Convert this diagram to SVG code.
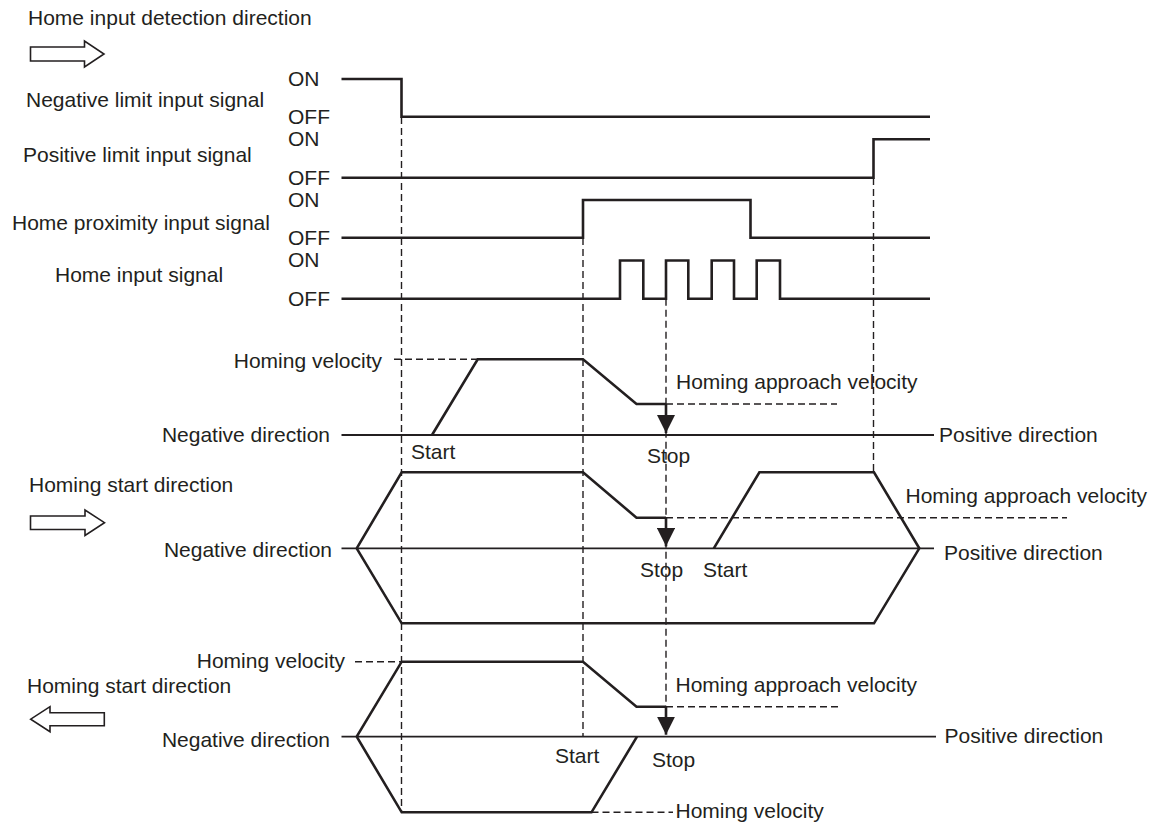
<svg xmlns="http://www.w3.org/2000/svg" width="1159" height="825" viewBox="0 0 1159 825">
<style>
text{font-family:"Liberation Sans",Arial,sans-serif;font-size:21px;fill:#231f20}
.sig{fill:none;stroke:#231f20;stroke-width:2.6;stroke-linejoin:miter}
.ax{fill:none;stroke:#231f20;stroke-width:1.8}
.prof{fill:none;stroke:#231f20;stroke-width:2.6;stroke-linejoin:miter}
.dash{fill:none;stroke:#231f20;stroke-width:1.4;stroke-dasharray:7 4}
.hollow{fill:#fff;stroke:#231f20;stroke-width:1.6}
.end{text-anchor:end}
</style>
<defs>
<marker id="ah" viewBox="0 0 10 10" refX="10" refY="5" markerWidth="7" markerHeight="7" markerUnits="strokeWidth" orient="auto">
<path d="M0,0 L10,5 L0,10 Z" fill="#231f20"/>
</marker>
</defs>
<rect width="1159" height="825" fill="#fff"/>

<g id="legend-detection">
<text x="28" y="25">Home input detection direction</text>
<polygon class="hollow" points="30.5,47 84.5,47 84.5,41 104,54 84.5,67 84.5,61 30.5,61"/>
</g>

<g id="neg-limit">
<text x="26" y="107">Negative limit input signal</text>
<text x="288" y="86">ON</text>
<text x="288" y="124">OFF</text>
<polyline class="sig" points="341.5,79 401.5,79 401.5,116.7 930,116.7"/>
</g>

<g id="pos-limit">
<text x="23" y="162">Positive limit input signal</text>
<text x="288" y="146">ON</text>
<text x="288" y="185">OFF</text>
<polyline class="sig" points="341.5,177.7 873.5,177.7 873.5,139.3 930,139.3"/>
</g>

<g id="home-prox">
<text x="12" y="230">Home proximity input signal</text>
<text x="288" y="207">ON</text>
<text x="288" y="245">OFF</text>
<polyline class="sig" points="341.5,237.7 583,237.7 583,200 750.5,200 750.5,237.7 930,237.7"/>
</g>

<g id="home-input">
<text x="55" y="282">Home input signal</text>
<text x="288" y="267">ON</text>
<text x="288" y="306">OFF</text>
<polyline class="sig" points="341.5,298.7 620,298.7 620,260.5 643.3,260.5 643.3,298.7 666,298.7 666,260.5 688.3,260.5 688.3,298.7 711.7,298.7 711.7,260.5 734,260.5 734,298.7 756.7,298.7 756.7,260.5 780,260.5 780,298.7 930,298.7"/>
</g>

<g id="connectors">
<line class="dash" x1="401.5" y1="117" x2="401.5" y2="812"/>
<line class="dash" x1="583" y1="238" x2="583" y2="736.7"/>
<line class="dash" x1="666" y1="298.7" x2="666" y2="706.7"/>
<line class="dash" x1="873.5" y1="178" x2="873.5" y2="472.3"/>
</g>

<g id="panel-1">
<line class="ax" x1="341.5" y1="435" x2="934" y2="435"/>
<text class="end" x="382" y="368">Homing velocity</text>
<text class="end" x="330" y="442">Negative direction</text>
<text x="939" y="442">Positive direction</text>
<text x="411" y="459">Start</text>
<text x="647" y="463">Stop</text>
<text x="676" y="389">Homing approach velocity</text>
<line class="dash" x1="394" y1="359.3" x2="478" y2="359.3"/>
<line class="dash" x1="666" y1="404" x2="837" y2="404"/>
<polyline class="prof" points="432,435 477.7,359.3 583,359.3 636.5,404 666,404"/>
<line class="prof" x1="666" y1="404" x2="666" y2="433" marker-end="url(#ah)"/>
</g>

<g id="panel-2">
<text x="29" y="492">Homing start direction</text>
<polygon class="hollow" points="30.5,516 85,516 85,510 104.5,522.7 85,535.5 85,529.5 30.5,529.5"/>
<line class="ax" x1="341.5" y1="548.3" x2="934" y2="548.3"/>
<text class="end" x="332" y="557">Negative direction</text>
<text x="944" y="560">Positive direction</text>
<text x="905.5" y="503">Homing approach velocity</text>
<text x="640" y="577">Stop</text>
<text x="703" y="577">Start</text>
<line class="dash" x1="666" y1="517.7" x2="1067" y2="517.7"/>
<polyline class="prof" points="356.7,548.3 401.7,472.3 583,472.3 636.5,517.7 666,517.7"/>
<line class="prof" x1="666" y1="517.7" x2="666" y2="546.3" marker-end="url(#ah)"/>
<polyline class="prof" points="356.7,548.3 401.7,623.3 874,623.3 919.3,548.3 874,472.3 759.4,472.3 713.8,548.3"/>
</g>

<g id="panel-3">
<text class="end" x="345" y="668">Homing velocity</text>
<text x="27" y="693">Homing start direction</text>
<polygon class="hollow" points="104.3,712.7 50,712.7 50,706.7 30.7,719.2 50,731.7 50,725.7 104.3,725.7"/>
<line class="ax" x1="341.5" y1="736.7" x2="936" y2="736.7"/>
<text class="end" x="330" y="747">Negative direction</text>
<text x="944.5" y="743">Positive direction</text>
<text x="675.5" y="692">Homing approach velocity</text>
<text x="555" y="763">Start</text>
<text x="652" y="767">Stop</text>
<text x="675.5" y="818">Homing velocity</text>
<line class="dash" x1="355" y1="661.7" x2="401.7" y2="661.7"/>
<line class="dash" x1="666" y1="706.7" x2="838" y2="706.7"/>
<line class="dash" x1="591.5" y1="812.3" x2="673" y2="812.3"/>
<polyline class="prof" points="356.7,736.7 401.7,661.7 583,661.7 636.5,706.7 666,706.7"/>
<line class="prof" x1="666" y1="706.7" x2="666" y2="734.7" marker-end="url(#ah)"/>
<polyline class="prof" points="356.7,736.7 401.7,812.3 591.5,812.3 637,736.7"/>
</g>
</svg>
